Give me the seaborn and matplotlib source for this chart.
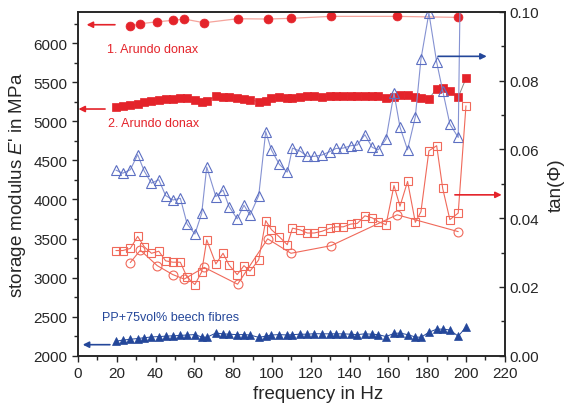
import matplotlib
matplotlib.use("Agg")
import matplotlib.pyplot as plt
from matplotlib.ticker import MultipleLocator, FormatStrFormatter
import pandas as pd
import seaborn as sns

# Frequency sweep of the DMA runs (Hz)
freq_sweep = [19.6, 23.1, 27.0, 30.8, 34.2, 37.9, 41.7, 45.2, 49.0, 52.8,
              56.3, 60.3, 63.8, 66.4, 71.1, 74.8, 77.9, 82.1, 85.6, 88.7,
              93.2, 96.8, 99.7, 103.8, 107.9, 110.6, 114.6, 118.2, 121.8, 125.8,
              129.9, 133.0, 136.8, 140.6, 144.0, 147.9, 151.7, 154.8, 158.8, 162.9,
              166.0, 169.9, 173.9, 176.8, 180.9, 184.9, 188.0, 191.7, 196.0, 200.0]

# Coarser sweep of sample 1
freq_sample1 = [27.0, 32.2, 40.9, 48.9, 54.8, 65.1, 82.3, 97.8, 109.8, 130.4, 164.5, 196.0]

# Storage modulus E' (MPa)
e_arundo1 = [6216, 6250, 6275, 6293, 6310, 6262, 6314, 6310, 6319, 6344, 6344, 6331]
e_arundo2 = [5182, 5195, 5210, 5225, 5250, 5262, 5272, 5280, 5290, 5298,
             5300, 5273, 5243, 5264, 5320, 5308, 5308, 5299, 5286, 5277,
             5251, 5264, 5295, 5311, 5302, 5295, 5318, 5320, 5320, 5318,
             5320, 5320, 5322, 5322, 5320, 5324, 5328, 5320, 5302, 5310,
             5340, 5338, 5310, 5300, 5290, 5418, 5430, 5390, 5309, 5550]
e_beech = [2185, 2200, 2210, 2220, 2230, 2240, 2245, 2250, 2255, 2260,
           2265, 2270, 2240, 2235, 2290, 2280, 2275, 2270, 2270, 2265,
           2235, 2250, 2265, 2270, 2265, 2270, 2275, 2275, 2282, 2280,
           2280, 2280, 2280, 2275, 2270, 2280, 2275, 2270, 2245, 2285,
           2290, 2270, 2240, 2235, 2300, 2340, 2340, 2330, 2250, 2365]

# Loss factor tan(phi)
tan_arundo1 = [0.0271, 0.0307, 0.0262, 0.0236, 0.0223, 0.0257, 0.0208, 0.0340,
               0.0298, 0.0320, 0.0410, 0.0361]
tan_arundo2 = [0.0306, 0.0306, 0.0312, 0.0347, 0.0317, 0.0298, 0.0304, 0.0276, 0.0272, 0.0272,
               0.0228, 0.0207, 0.0244, 0.0337, 0.0267, 0.0298, 0.0264, 0.0236, 0.0262, 0.0246,
               0.0279, 0.0393, 0.0367, 0.0346, 0.0323, 0.0371, 0.0366, 0.0357, 0.0357, 0.0362,
               0.0371, 0.0375, 0.0375, 0.0383, 0.0385, 0.0407, 0.0401, 0.0390, 0.0381, 0.0495,
               0.0435, 0.0507, 0.0388, 0.0419, 0.0596, 0.0611, 0.0487, 0.0396, 0.0415, 0.0727]
tan_beech = [0.0540, 0.0531, 0.0541, 0.0585, 0.0537, 0.0502, 0.0512, 0.0466, 0.0453, 0.0458,
             0.0383, 0.0354, 0.0414, 0.0549, 0.0463, 0.0482, 0.0434, 0.0398, 0.0438, 0.0409,
             0.0466, 0.0652, 0.0599, 0.0557, 0.0534, 0.0604, 0.0595, 0.0580, 0.0580, 0.0584,
             0.0594, 0.0603, 0.0604, 0.0611, 0.0613, 0.0643, 0.0606, 0.0599, 0.0630, 0.0764,
             0.0665, 0.0599, 0.0695, 0.0863, 0.0997, 0.0854, 0.0771, 0.0674, 0.0635, 0.2300]

x_ticks = list(range(0, 221, 20))

RED = "#e4232a"
SALMON = "#f0695a"
PINK = "#f5a49c"
BLUE_OPEN = "#5c6fc2"
BLUE_LINE = "#8592d2"
BLUE_DARK = "#24479a"

sns.set_style("ticks")
plt.rcParams["font.family"] = ["Liberation Sans", "DejaVu Sans"]
plt.rcParams["mathtext.fontset"] = "custom"
plt.rcParams["mathtext.rm"] = "Liberation Sans"
plt.rcParams["mathtext.it"] = "Liberation Sans:italic"

fig = plt.figure(figsize=(5.74, 4.14), dpi=100)
ax = fig.add_axes([0.1357, 0.1384, 0.7437, 0.8302])
ax2 = ax.twinx()

df_s1 = pd.DataFrame({"f": freq_sample1, "E": e_arundo1, "tan": tan_arundo1})
df_sw = pd.DataFrame({"f": freq_sweep, "E2": e_arundo2, "Eb": e_beech,
                      "tan2": tan_arundo2, "tanb": tan_beech})

# storage modulus, left axis
sns.lineplot(data=df_s1, x="f", y="E", ax=ax, color=PINK, lw=0.9,
             marker="o", markersize=6.4, markerfacecolor=RED,
             markeredgecolor=RED, markeredgewidth=0.5)
sns.lineplot(data=df_sw, x="f", y="E2", ax=ax, color="#888888", lw=0.7,
             marker="s", markersize=6.0, markerfacecolor=RED,
             markeredgecolor=RED, markeredgewidth=0.5)
sns.lineplot(data=df_sw, x="f", y="Eb", ax=ax, color=BLUE_DARK, lw=0.7,
             marker="^", markersize=6.4, markerfacecolor=BLUE_DARK,
             markeredgecolor=BLUE_DARK, markeredgewidth=0.5)

# loss factor, right axis
sns.lineplot(data=df_sw, x="f", y="tanb", ax=ax2, color=BLUE_LINE, lw=0.8,
             marker="^", markersize=7.2, markerfacecolor="none",
             markeredgecolor=BLUE_OPEN, markeredgewidth=0.8)
sns.lineplot(data=df_sw, x="f", y="tan2", ax=ax2, color=SALMON, lw=0.8,
             marker="s", markersize=6.0, markerfacecolor="none",
             markeredgecolor=SALMON, markeredgewidth=0.8)
sns.lineplot(data=df_s1, x="f", y="tan", ax=ax2, color=SALMON, lw=0.8,
             marker="o", markersize=6.4, markerfacecolor="none",
             markeredgecolor=SALMON, markeredgewidth=0.8)

ax.set_xlim(0, 220)
ax.set_ylim(2000, 6400)
ax2.set_ylim(0, 0.10)
ax.set_xticks(x_ticks)
ax.xaxis.set_minor_locator(MultipleLocator(10))
ax.yaxis.set_major_locator(MultipleLocator(500))
ax.yaxis.set_minor_locator(MultipleLocator(250))
ax2.yaxis.set_major_locator(MultipleLocator(0.02))
ax2.yaxis.set_minor_locator(MultipleLocator(0.01))
ax2.yaxis.set_major_formatter(FormatStrFormatter("%.2f"))

for a in (ax, ax2):
    for s in a.spines.values():
        s.set_linewidth(1.1)
        s.set_color("#222222")
ax.tick_params(axis="both", which="major", labelsize=11, length=4, width=1, direction="out")
ax.tick_params(axis="both", which="minor", length=3, width=1, direction="out")
ax2.tick_params(axis="y", which="major", labelsize=11, length=4, width=1, direction="in")
ax2.tick_params(axis="y", which="minor", length=3, width=1, direction="in")

ax.set_xlabel("frequency in Hz", fontsize=13.5, labelpad=4)
ax.xaxis.set_label_coords(0.562, -0.085)
ax.set_ylabel("storage modulus $E$' in MPa", fontsize=13.5, labelpad=4)
ax2.set_ylabel("tan(Φ)", fontsize=13.5, labelpad=6)

# curve labels and axis-assignment arrows
ax.text(14.8, 5926, "1. Arundo donax", color=RED, fontsize=9, va="center", ha="left")
ax.text(15.5, 4979, "2. Arundo donax", color=RED, fontsize=9, va="center", ha="left")
ax.text(12.3, 2499, "PP+75vol% beech fibres", color=BLUE_DARK, fontsize=9, va="center", ha="left")

arrow = dict(arrowstyle="-|>", lw=1.2, mutation_scale=9, shrinkA=0, shrinkB=0)
ax.annotate("", xy=(4.5, 6237), xytext=(19.1, 6237), arrowprops=dict(arrow, color=RED))
ax.annotate("", xy=(0.3, 5158), xytext=(14.0, 5158), arrowprops=dict(arrow, color=RED))
ax.annotate("", xy=(2.5, 2141), xytext=(16.5, 2141), arrowprops=dict(arrow, color=BLUE_DARK))
ax2.annotate("", xy=(210.7, 0.0871), xytext=(185.6, 0.0871), arrowprops=dict(arrow, color=BLUE_DARK))
ax2.annotate("", xy=(218.4, 0.0468), xytext=(194.3, 0.0468), arrowprops=dict(arrow, color=RED))

fig.savefig("out.png", dpi=100)
